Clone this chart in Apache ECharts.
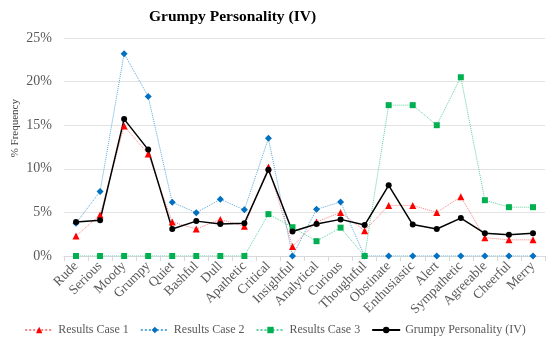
<!DOCTYPE html>
<html>
<head>
<meta charset="utf-8">
<script src="https://cdn.jsdelivr.net/npm/echarts@6/dist/echarts.min.js"></script>
<style>html,body{margin:0;padding:0;background:#fff}#c{width:550px;height:346px}</style>
</head>
<body>
<div id="c"></div>
<script>
const categories = ["Rude","Serious","Moody","Grumpy","Quiet","Bashful","Dull","Apathetic","Critical","Insightful","Analytical","Curious","Thoughtful","Obstinate","Enthusiastic","Alert","Sympathetic","Agreeable","Cheerful","Merry"];
const case1 = [2.3,4.7,14.9,11.7,3.9,3.1,4.2,3.4,10.2,1.1,3.9,5.0,2.9,5.8,5.8,5.0,6.8,2.1,1.85,1.85];
const case2 = [3.75,7.4,23.2,18.3,6.15,4.97,6.5,5.3,13.5,0,5.35,6.2,0,0,0,0,0,0,0,0];
const case3 = [0,0,0,0,0,0,0,0,4.8,3.3,1.7,3.25,0,17.3,17.3,15.0,20.5,6.4,5.6,5.6];
const grumpyIV = [3.9,4.1,15.7,12.2,3.1,4.0,3.67,3.75,9.9,2.8,3.67,4.2,3.55,8.1,3.6,3.1,4.35,2.6,2.45,2.6];
const yTicks = [0,5,10,15,20,25];

const serif = "Liberation Serif";
const chart = echarts.init(document.getElementById('c'), null, {renderer:'canvas'});
chart.setOption({
  animation:false,
  backgroundColor:'#fff',
  title:{text:'Grumpy Personality (IV)',left:144,top:4,textStyle:{fontFamily:serif,fontWeight:'bold',fontSize:15.5,color:'#000'}},
  graphic:[{type:'text',left:10,top:99,rotation:Math.PI/2,style:{text:'% Frequency',font:'11px "Liberation Serif"',fill:'#404040'}}],
  grid:{left:64,right:5,top:38,bottom:90,containLabel:false},
  legend:{bottom:5,left:'center',itemWidth:28,itemHeight:8,itemGap:11,
    textStyle:{fontFamily:serif,fontSize:12,color:'#595959'},
    data:['Results Case 1','Results Case 2','Results Case 3','Grumpy Personality (IV)']},
  xAxis:{type:'category',data:categories,boundaryGap:true,
    axisLine:{lineStyle:{color:'#D9D9D9'}},
    axisTick:{show:true,length:5,lineStyle:{color:'#D9D9D9'}},
    axisLabel:{interval:0,rotate:45,fontFamily:serif,fontSize:13.5,color:'#595959',margin:8}},
  yAxis:{type:'value',min:yTicks[0],max:yTicks[yTicks.length-1],interval:5,
    axisLine:{show:false},axisTick:{show:false},
    axisLabel:{formatter:'{value}%',fontFamily:serif,fontSize:14,color:'#595959',margin:12},
    splitLine:{lineStyle:{color:'#E3E3E3'}}},
  series:[
    {name:'Results Case 1',type:'line',data:case1,symbol:'triangle',symbolSize:7,
     itemStyle:{color:'#FF0000'},lineStyle:{color:'#FF8080',width:1,type:'dotted'}},
    {name:'Results Case 2',type:'line',data:case2,symbol:'diamond',symbolSize:7,
     itemStyle:{color:'#0070C0'},lineStyle:{color:'#5BA8DC',width:1,type:'dotted'}},
    {name:'Results Case 3',type:'line',data:case3,symbol:'rect',symbolSize:6,
     itemStyle:{color:'#00B050'},lineStyle:{color:'#5FCF9C',width:1,type:'dotted'}},
    {name:'Grumpy Personality (IV)',type:'line',data:grumpyIV,symbol:'circle',symbolSize:6,
     itemStyle:{color:'#000'},lineStyle:{color:'#000',width:1.5}}
  ]
});
</script>
</body>
</html>
